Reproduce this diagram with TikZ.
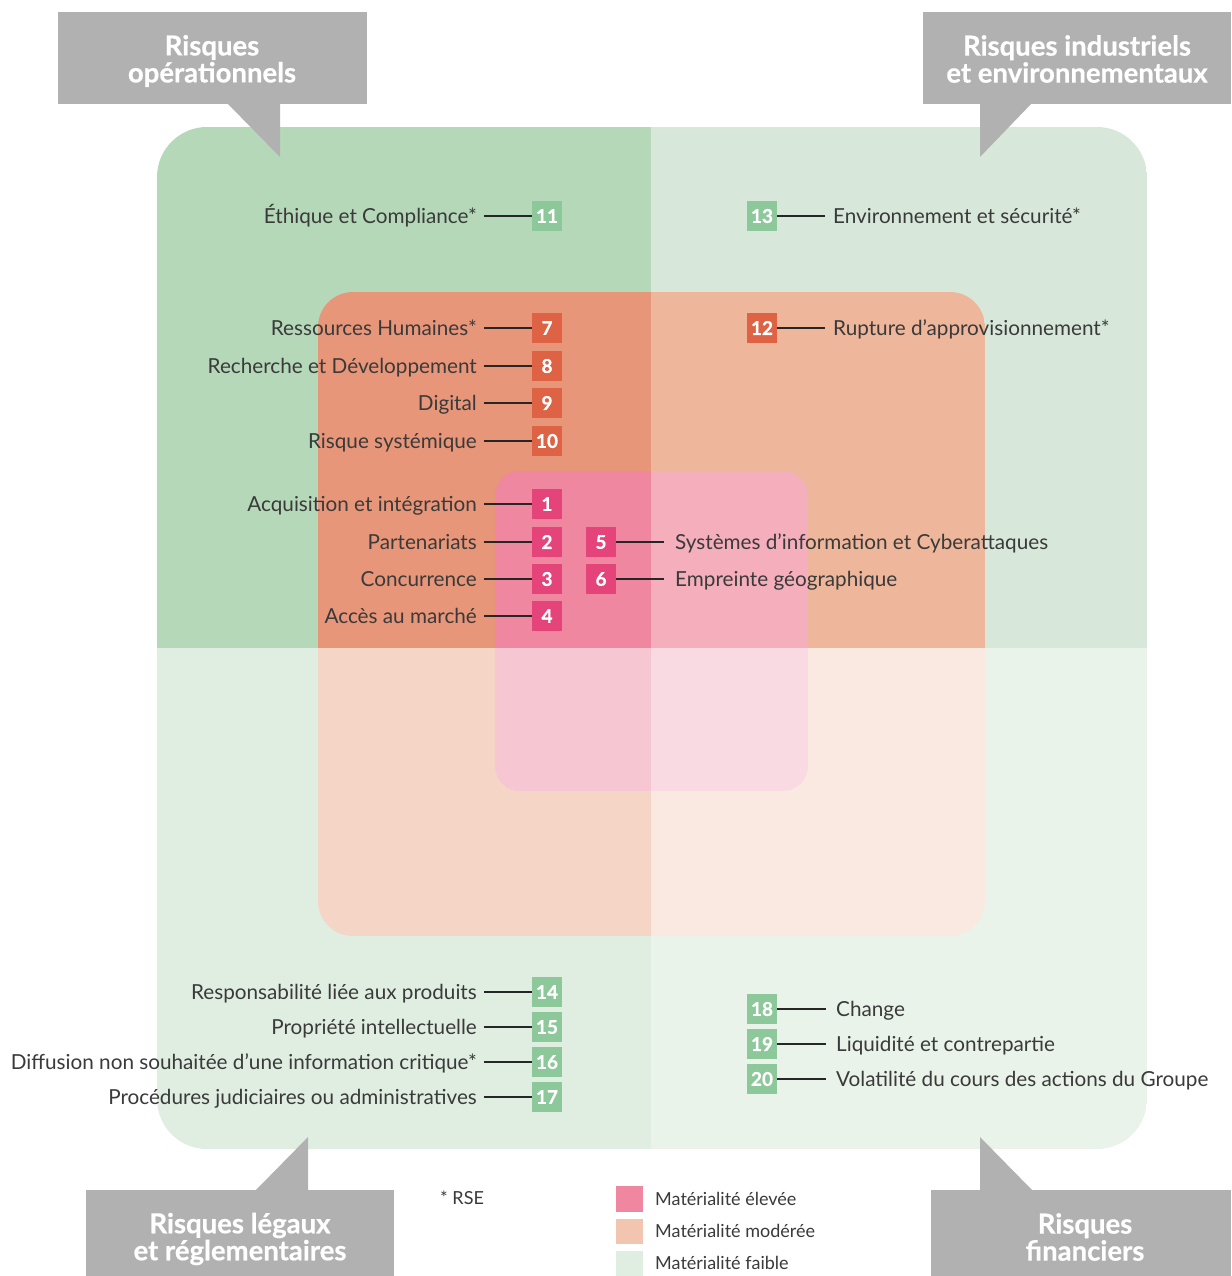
\documentclass[tikz,border=0pt]{standalone}
\usepackage{fontspec}
\setmainfont{Lato}
\newfontfamily\heavyfont{Lato}[BoldFeatures={FakeBold=0.6}]
\definecolor{gTL}{HTML}{B5D8B9}
\definecolor{gTR}{HTML}{D7E8DA}
\definecolor{gBL}{HTML}{E0EEE2}
\definecolor{gBR}{HTML}{E9F3EA}
\definecolor{oTL}{HTML}{E89679}
\definecolor{oTR}{HTML}{EEB69B}
\definecolor{oBL}{HTML}{F4D5C6}
\definecolor{oBR}{HTML}{F9E9E1}
\definecolor{pTL}{HTML}{F087A0}
\definecolor{pTR}{HTML}{F4AEBC}
\definecolor{pBL}{HTML}{F6C7D3}
\definecolor{pBR}{HTML}{F9DAE2}
\definecolor{bG}{HTML}{8DC89A}
\definecolor{bO}{HTML}{DE6345}
\definecolor{bP}{HTML}{E5447A}
\definecolor{hdr}{HTML}{B1B1B1}
\definecolor{txt}{HTML}{3A3A3A}
\definecolor{legO}{HTML}{F2C5B1}
\tikzset{
  badge/.style={minimum width=30, minimum height=30, inner sep=0, font=\heavyfont\bfseries\fontsize{19}{19}\selectfont, text=white},
  lab/.style={inner ysep=0, text height=15, text depth=0, font=\fontsize{20.7}{21}\selectfont, text=txt},
  conn/.style={line width=1.4, draw=black!85},
  hdrtext/.style={align=center, text=white, font=\heavyfont\bfseries\fontsize{27.5}{27}\selectfont},
  legtxt/.style={anchor=west, inner sep=0, text height=12, text depth=0, font=\fontsize{18}{18}\selectfont, text=txt}
}
\begin{document}
\begin{tikzpicture}[x=1pt,y=-1pt]
\useasboundingbox (0,0) rectangle (1231,1276);
\fill[white] (0,0) rectangle (1231,1276);
% outer green
\begin{scope}
\clip[rounded corners=50] (157,127) rectangle (1147,1149);
\fill[gTL] (157,127) rectangle (651,648);
\fill[gTR] (651,127) rectangle (1147,648);
\fill[gBL] (157,648) rectangle (651,1149);
\fill[gBR] (651,648) rectangle (1147,1149);
\end{scope}
% orange
\begin{scope}
\clip[rounded corners=35] (318,292) rectangle (985,936);
\fill[oTL] (318,292) rectangle (651,648);
\fill[oTR] (651,292) rectangle (985,648);
\fill[oBL] (318,648) rectangle (651,936);
\fill[oBR] (651,648) rectangle (985,936);
\end{scope}
% pink
\begin{scope}
\clip[rounded corners=25] (495,471) rectangle (808,791);
\fill[pTL] (495,471) rectangle (651,648);
\fill[pTR] (651,471) rectangle (808,648);
\fill[pBL] (495,648) rectangle (651,791);
\fill[pBR] (651,648) rectangle (808,791);
\end{scope}
% headers
\fill[hdr] (58,12) rectangle (367,104);
\fill[hdr] (227,103) -- (280,103) -- (280,157) -- cycle;
\node[hdrtext] (h1) at (212,61) {Risques\\opérationnels};
\fill[hdr] (923,12) rectangle (1231,104);
\fill[hdr] (980,103) -- (1032,103) -- (980,157) -- cycle;
\node[hdrtext] (h2) at (1077,59) {Risques industriels\\et environnementaux};
\fill[hdr] (86,1190) rectangle (394,1276);
\fill[hdr] (255,1191) -- (308,1191) -- (308,1137) -- cycle;
\node[hdrtext] (h3) at (240,1239) {Risques légaux\\et réglementaires};
\fill[hdr] (931,1190) rectangle (1231,1276);
\fill[hdr] (980,1191) -- (1033,1191) -- (980,1137) -- cycle;
\node[hdrtext] (h4) at (1085,1237) {Risques\\financiers};
% left badges
\foreach \n/\y/\c in {11/216/bG, 7/328/bO, 8/366/bO, 9/403/bO, 10/441/bO, 1/504/bP, 2/542/bP, 3/579/bP, 4/616/bP, 14/992/bG, 15/1027/bG, 16/1062/bG, 17/1097/bG}
  \node[badge, fill=\c] (b\n) at (547,\y) {\n};
\foreach \n/\y/\c in {13/216/bG, 12/328/bO, 18/1009/bG, 19/1044/bG, 20/1079/bG}
  \node[badge, fill=\c] (b\n) at (762,\y) {\n};
\foreach \n/\y in {5/542, 6/579}
  \node[badge, fill=bP] (b\n) at (601,\y) {\n};
% left labels
\foreach \n/\y/\t in {11/216/{Éthique et Compliance*}, 7/328/{Ressources Humaines*}, 8/366/{Recherche et Développement}, 9/403/{Digital}, 10/441/{Risque systémique}, 1/504/{Acquisition et intégration}, 2/542/{Partenariats}, 3/579/{Concurrence}, 4/616/{Accès au marché}, 14/992/{Responsabilité liée aux produits}, 15/1027/{Propriété intellectuelle}, 16/1062/{Diffusion non souhaitée d’une information critique*}, 17/1097/{Procédures judiciaires ou administratives}}
{
  \node[lab, anchor=east, inner xsep=7] (t\n) at (484,\y) {\t};
  \draw[conn] (t\n.east) -- (b\n.west);
}
% right labels
\foreach \n/\y/\x/\s/\t in {13/216/825/8/{Environnement et sécurité*}, 12/328/825/8/{Rupture d’approvisionnement*}, 5/542/664/11/{Systèmes d’information et Cyberattaques}, 6/579/664/11/{Empreinte géographique}, 18/1009/826/10/{Change}, 19/1044/826/10/{Liquidité et contrepartie}, 20/1079/826/10/{Volatilité du cours des actions du Groupe}}
{
  \node[lab, anchor=west, inner xsep=\s] (t\n) at (\x,\y) {\t};
  \draw[conn] (b\n.east) -- (t\n.west);
}
% legend
\node[legtxt] (rse) at (440,1198) {* RSE};
\fill[pTL] (616,1186) rectangle (643,1212);
\node[legtxt] (l1) at (655,1199) {Matérialité élevée};
\fill[legO] (616,1219) rectangle (643,1244);
\node[legtxt] (l2) at (655,1231) {Matérialité modérée};
\fill[gBL] (616,1251) rectangle (643,1276);
\node[legtxt] (l3) at (655,1263) {Matérialité faible};
\end{tikzpicture}
\end{document}
